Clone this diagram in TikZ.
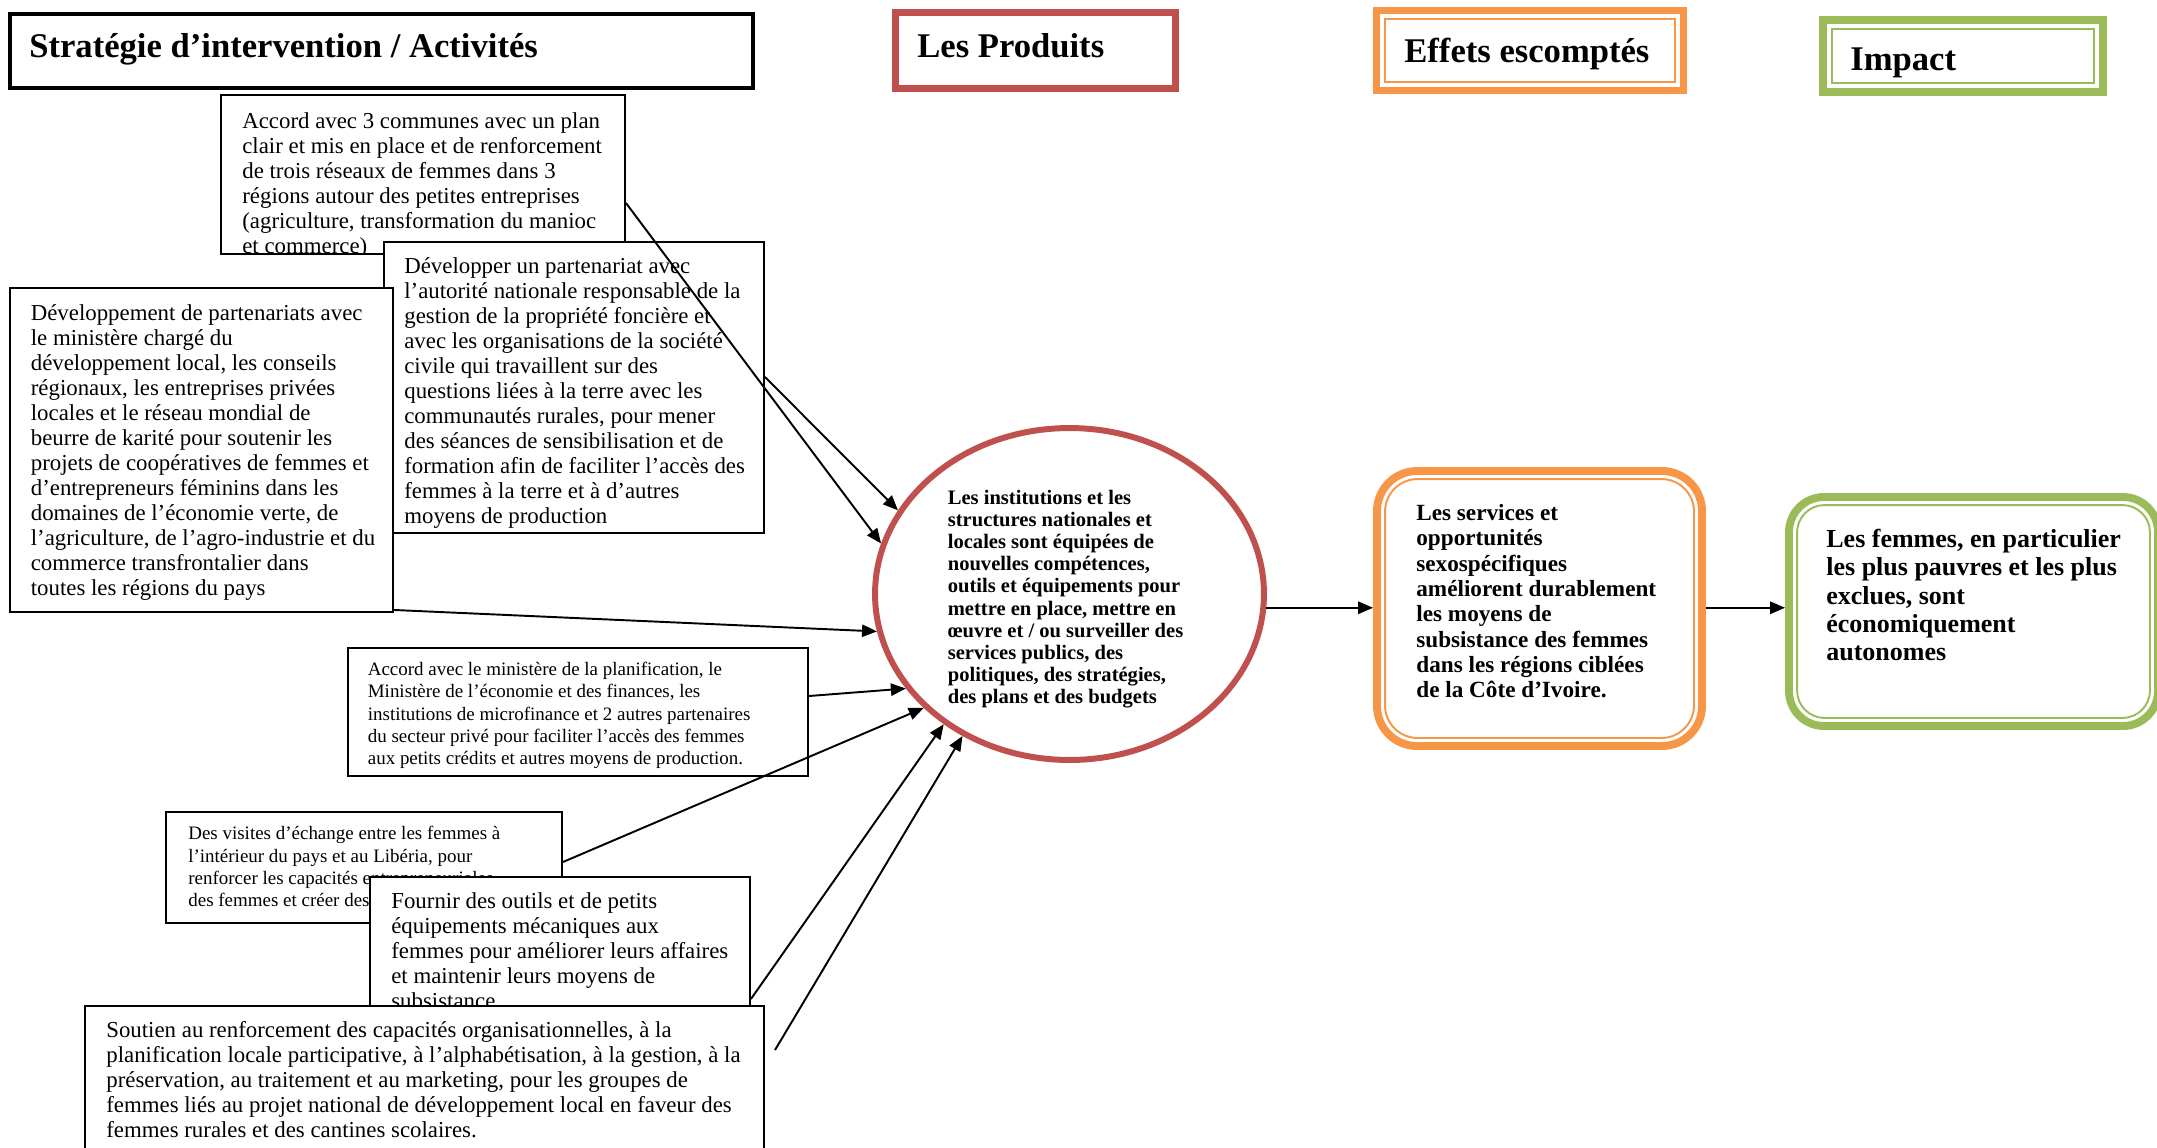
\documentclass[tikz,border=0pt]{standalone}
\usepackage{fontspec}
\setmainfont{Liberation Serif}
\usetikzlibrary{arrows.meta,fit,shapes.geometric}
\definecolor{prodred}{HTML}{C0504D}
\definecolor{effetorange}{HTML}{F79646}
\definecolor{impactgreen}{HTML}{9BBB59}
\begin{document}
\begin{tikzpicture}[x=0.02cm,y=-0.02cm,
  actbox/.style={draw,line width=1.1pt,fill=white,inner sep=0pt},
  acttext/.style={anchor=north west,inner sep=0pt,align=left,font=\fontsize{13}{14.2}\selectfont},
  smalltext/.style={acttext,font=\fontsize{10.8}{12.6}\selectfont},
  headtext/.style={anchor=base west,inner sep=0pt,font=\fontsize{19.7}{23}\selectfont\bfseries},
  arr/.style={-{Triangle[length=8.5pt,width=7pt]},line width=1.1pt}]
  \useasboundingbox (0,0) rectangle (2157,1147);

  % column headers
  \node[draw,line width=2.3pt,inner sep=0pt,fit={(10,14) (753,88)}] (strat) {};
  \node[headtext] (strattext) at (29,57) {Stratégie d’intervention / Activités};
  \node[draw=prodred,line width=4pt,inner sep=0pt,fit={(895.5,12.5) (1175.5,88.5)}] (prodhead) {};
  \node[headtext] (prodheadtext) at (917,57) {Les Produits};
  \node[draw=effetorange,line width=4pt,inner sep=0pt,fit={(1376.5,10.5) (1683.5,90.5)}] (effhead) {};
  \draw[effetorange,line width=1pt] ([shift={(12,12)}]effhead.north west) rectangle ([shift={(-12,-12)}]effhead.south east);
  \node[headtext] (effheadtext) at (1404,62) {Effets escomptés};
  \node[draw=impactgreen,line width=4.5pt,inner sep=0pt,fit={(1823,20) (2103,92)}] (imphead) {};
  \draw[impactgreen,line width=1pt] ([shift={(13,13)}]imphead.north west) rectangle ([shift={(-13,-13)}]imphead.south east);
  \node[headtext] (impheadtext) at (1850,70) {Impact};

  % activities
  \node[actbox,fit={(221,95) (625,254)}] (b1) {};
  \begin{scope}
    \clip ([shift={(2,2)}]b1.north west) rectangle ([shift={(-2,-2)}]b1.south east);
    \node[acttext] (b1text) at (242,110.5) {\strut Accord avec 3 communes avec un plan\\clair et mis en place et de renforcement\\de trois réseaux de femmes dans 3\\régions autour des petites entreprises\\(agriculture, transformation du manioc\\et commerce)};
  \end{scope}
  \node[actbox,fit={(384,242) (764,533)}] (b2) {};
  \begin{scope}
    \clip ([shift={(2,2)}]b2.north west) rectangle ([shift={(-2,-2)}]b2.south east);
    \node[acttext] (b2text) at (404,256) {\strut Développer un partenariat avec\\l'autorité nationale responsable de la\\gestion de la propriété foncière et\\avec les organisations de la société\\civile qui travaillent sur des\\questions liées à la terre avec les\\communautés rurales, pour mener\\des séances de sensibilisation et de\\formation afin de faciliter l'accès des\\femmes à la terre et à d'autres\\moyens de production};
  \end{scope}
  \node[actbox,fit={(10,288) (393,612)}] (b3) {};
  \begin{scope}
    \clip ([shift={(2,2)}]b3.north west) rectangle ([shift={(-2,-2)}]b3.south east);
    \node[acttext] (b3text) at (30.5,303) {\strut Développement de partenariats avec\\le ministère chargé du\\développement local, les conseils\\régionaux, les entreprises privées\\locales et le réseau mondial de\\beurre de karité pour soutenir les\\projets de coopératives de femmes et\\d'entrepreneurs féminins dans les\\domaines de l'économie verte, de\\l'agriculture, de l'agro-industrie et du\\commerce transfrontalier dans\\toutes les régions du pays};
  \end{scope}
  \node[actbox,fit={(348,648) (808,776)}] (b4) {};
  \begin{scope}
    \clip ([shift={(2,2)}]b4.north west) rectangle ([shift={(-2,-2)}]b4.south east);
    \node[smalltext] (b4text) at (367.5,660) {\strut Accord avec le ministère de la planification, le\\Ministère de l'économie et des finances, les\\institutions de microfinance et 2 autres partenaires\\du secteur privé pour faciliter l'accès des femmes\\aux petits crédits et autres moyens de production.};
  \end{scope}
  \node[actbox,fit={(166,812) (562,923)}] (b5) {};
  \begin{scope}
    \clip ([shift={(2,2)}]b5.north west) rectangle ([shift={(-2,-2)}]b5.south east);
    \node[smalltext] (b5text) at (188,824) {\strut Des visites d'échange entre les femmes à\\l'intérieur du pays et au Libéria, pour\\renforcer les capacités entrepreneuriales\\des femmes et créer des};
  \end{scope}
  \node[actbox,fit={(370,877) (750,1006)}] (b6) {};
  \begin{scope}
    \clip ([shift={(2,2)}]b6.north west) rectangle ([shift={(-2,-2)}]b6.south east);
    \node[acttext] (b6text) at (391,891) {\strut Fournir des outils et de petits\\équipements mécaniques aux\\femmes pour améliorer leurs affaires\\et maintenir leurs moyens de\\subsistance};
  \end{scope}
  \node[actbox,fit={(85,1006) (764,1170)}] (b7) {};
  \begin{scope}
    \clip ([shift={(2,2)}]b7.north west) rectangle ([shift={(-2,-2)}]b7.south east);
    \node[acttext] (b7text) at (106,1020) {\strut Soutien au renforcement des capacités organisationnelles, à la\\planification locale participative, à l'alphabétisation, à la gestion, à la\\préservation, au traitement et au marketing, pour les groupes de\\femmes liés au projet national de développement local en faveur des\\femmes rurales et des cantines scolaires.};
  \end{scope}

  % products, effects, impact
  \node[ellipse,draw=prodred,line width=3.4pt,minimum width=7.78cm,minimum height=6.64cm,inner sep=0pt] (prod) at (1069.5,594) {};
  \node[acttext,font=\fontsize{11.7}{12.6}\selectfont\bfseries] (prodtext) at (947.5,488.5)
    {\strut Les institutions et les\\structures nationales et\\locales sont équipées de\\nouvelles compétences,\\outils et équipements pour\\mettre en place, mettre en\\œuvre et / ou surveiller des\\services publics, des\\politiques, des stratégies,\\des plans et des budgets};
  \node[draw=effetorange,line width=4.5pt,rounded corners=0.8cm,inner sep=0pt,fit={(1377,471) (1702,746)}] (effets) {};
  \draw[effetorange,line width=1.1pt,rounded corners=0.65cm] ([shift={(12,12)}]effets.north west) rectangle ([shift={(-12,-12)}]effets.south east);
  \node[acttext,font=\fontsize{13.2}{14.4}\selectfont\bfseries] (effetstext) at (1416,502.5)
    {\strut Les services et\\opportunités\\sexospécifiques\\améliorent durablement\\les moyens de\\subsistance des femmes\\dans les régions ciblées\\de la Côte d'Ivoire.};
  \node[draw=impactgreen,line width=4.5pt,rounded corners=0.7cm,inner sep=0pt,fit={(1789,497) (2158,726)}] (impact) {};
  \draw[impactgreen,line width=1.1pt,rounded corners=0.55cm] ([shift={(12,12)}]impact.north west) rectangle ([shift={(-12,-12)}]impact.south east);
  \node[acttext,font=\fontsize{14.8}{16.1}\selectfont\bfseries] (impacttext) at (1826,527.5)
    {\strut Les femmes, en particulier\\les plus pauvres et les plus\\exclues, sont\\économiquement\\autonomes};

  % connectors
  \coordinate (a7) at (775,1050);
  \draw[arr] ([shift={(0,28.5)}]b1.east) -- (prod.165);
  \draw[arr] ([shift={(0,-10.5)}]b2.east) -- (prod.154);
  \draw[arr] ([shift={(0,-3)}]b3.south east) -- (prod.191);
  \draw[arr] ([shift={(0,-16)}]b4.east) -- (prod.210);
  \draw[arr] ([shift={(0,-5.5)}]b5.east) -- (prod.218);
  \draw[arr] ([shift={(0,-8)}]b6.south east) -- (prod.226);
  \draw[arr] (a7) -- (prod.233);
  \draw[arr] (prod.-4) -- (prod.-4 -| effets.west);
  \draw[arr] (effets.east |- prod.-4) -- (prod.-4 -| impact.west);
\end{tikzpicture}
\end{document}
